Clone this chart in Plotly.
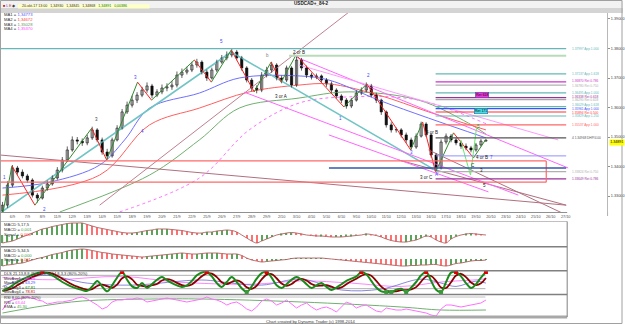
import plotly.graph_objects as go

W, H = 625, 324

# ---------------- data ----------------
closes = [1.3269, 1.3337, 1.3395, 1.3381, 1.3368, 1.3354, 1.3303, 1.3293, 1.3327, 1.3341,
          1.3361, 1.3388, 1.3422, 1.3456, 1.3490, 1.3486, 1.3480, 1.3497, 1.3524, 1.3490,
          1.3449, 1.3436, 1.3490, 1.3530, 1.3585, 1.3608, 1.3625, 1.3642, 1.3659, 1.3673,
          1.3642, 1.3653, 1.3666, 1.3670, 1.3676, 1.3710, 1.3720, 1.3727, 1.3744, 1.3754,
          1.3720, 1.3700, 1.3727, 1.3754, 1.3768, 1.3778, 1.3788, 1.3768, 1.3734, 1.3693,
          1.3666, 1.3659, 1.3710, 1.3727, 1.3744, 1.3700, 1.3693, 1.3734, 1.3676, 1.3761,
          1.3734, 1.3710, 1.3703, 1.3707, 1.3693, 1.3680, 1.3659, 1.3639, 1.3625, 1.3605,
          1.3625, 1.3649, 1.3659, 1.3673, 1.3642, 1.3625, 1.3585, 1.3541, 1.3524, 1.3524,
          1.3507, 1.3490, 1.3466, 1.3503, 1.3544, 1.3507, 1.3439, 1.3395, 1.3483, 1.3503,
          1.3490, 1.3480, 1.3469, 1.3463, 1.3456, 1.3473, 1.3486, 1.3489]
highs = [1.3280, 1.3350, 1.3405, 1.3402, 1.3390, 1.3375, 1.3360, 1.3310, 1.3335, 1.3352,
         1.3370, 1.3398, 1.3432, 1.3468, 1.3502, 1.3500, 1.3495, 1.3508, 1.3535, 1.3530,
         1.3498, 1.3460, 1.3498, 1.3540, 1.3595, 1.3620, 1.3640, 1.3652, 1.3670, 1.3685,
         1.3680, 1.3662, 1.3678, 1.3682, 1.3690, 1.3722, 1.3732, 1.3738, 1.3755, 1.3765,
         1.3760, 1.3728, 1.3735, 1.3762, 1.3778, 1.3790, 1.3800, 1.3795, 1.3775, 1.3740,
         1.3700, 1.3675, 1.3720, 1.3738, 1.3755, 1.3750, 1.3708, 1.3742, 1.3740, 1.3775,
         1.3768, 1.3742, 1.3718, 1.3715, 1.3712, 1.3700, 1.3688, 1.3665, 1.3645, 1.3632,
         1.3632, 1.3658, 1.3668, 1.3685, 1.3680, 1.3650, 1.3630, 1.3590, 1.3550, 1.3532,
         1.3530, 1.3515, 1.3498, 1.3512, 1.3552, 1.3550, 1.3512, 1.3445, 1.3492, 1.3512,
         1.3510, 1.3498, 1.3488, 1.3478, 1.3470, 1.3480, 1.3493, 1.3493]
lows = [1.3240, 1.3260, 1.3330, 1.3372, 1.3360, 1.3345, 1.3295, 1.3278, 1.3288, 1.3318,
        1.3335, 1.3355, 1.3380, 1.3415, 1.3450, 1.3475, 1.3470, 1.3472, 1.3490, 1.3482,
        1.3440, 1.3425, 1.3430, 1.3485, 1.3525, 1.3578, 1.3600, 1.3615, 1.3635, 1.3650,
        1.3632, 1.3635, 1.3645, 1.3655, 1.3660, 1.3668, 1.3700, 1.3712, 1.3720, 1.3735,
        1.3712, 1.3690, 1.3695, 1.3720, 1.3748, 1.3760, 1.3770, 1.3760, 1.3725, 1.3685,
        1.3655, 1.3648, 1.3652, 1.3702, 1.3718, 1.3692, 1.3682, 1.3686, 1.3668, 1.3670,
        1.3725, 1.3700, 1.3695, 1.3696, 1.3685, 1.3670, 1.3650, 1.3630, 1.3615, 1.3596,
        1.3598, 1.3620, 1.3642, 1.3652, 1.3635, 1.3615, 1.3575, 1.3532, 1.3515, 1.3515,
        1.3498, 1.3480, 1.3458, 1.3460, 1.3498, 1.3500, 1.3430, 1.3385, 1.3390, 1.3475,
        1.3482, 1.3472, 1.3460, 1.3455, 1.3448, 1.3450, 1.3468, 1.3485]
first_open = 1.3250
opens = [first_open] + closes[:-1]
bars = list(range(len(closes)))

# moving averages (bar, price)
ma1_bar = [0, 9.5, 19.5, 24.5, 29.5, 39.5, 47.5, 59.5, 65.5, 75.5, 85.5, 97]
ma1_val = [1.3327, 1.3347, 1.3405, 1.3490, 1.3598, 1.3649, 1.3700, 1.3707, 1.3693, 1.3625, 1.3564, 1.3497]
ma2_bar = [0, 19.5, 29.5, 39.5, 49.5, 59.5, 65.5, 75.5, 85.5, 97]
ma2_val = [1.3303, 1.3371, 1.3541, 1.3598, 1.3653, 1.3676, 1.3680, 1.3642, 1.3585, 1.3524]
ma3_bar = [11.5, 29.5, 39.5, 47.5, 59.5, 69.5, 83.5, 93.5, 97]
ma3_val = [1.3246, 1.3371, 1.3490, 1.3598, 1.3632, 1.3653, 1.3625, 1.3547, 1.3510]
ma4_bar = [23.5, 39.5, 49.5, 59.5, 69.5, 83.5, 97]
ma4_val = [1.3246, 1.3361, 1.3524, 1.3615, 1.3636, 1.3625, 1.3545]

# trend lines (bar, price)
maroon_up_bar = [19.5, 73.9]
maroon_up_val = [1.3269, 1.3981]
maroon_flat_bar = [-0.5, 113.1]
maroon_flat_val = [1.3439, 1.3269]
maroon_a_bar = [85.5, 113.1]
maroon_a_val = [1.3456, 1.3236]
maroon_b_bar = [79.5, 113.1]
maroon_b_val = [1.3422, 1.3269]
teal_up_bar = [-0.5, 45.9]
teal_up_val = [1.3242, 1.3788]
teal_down_bar = [45.9, 87.5]
teal_down_val = [1.3788, 1.3381]
pink_a_bar = [58.9, 113.5]
pink_a_val = [1.3771, 1.3395]
pink_b_bar = [59.5, 111.5]
pink_b_val = [1.3744, 1.3490]
pink_c_bar = [48.5, 103.5]
pink_c_val = [1.3652, 1.3303]
pink_d_bar = [65.5, 97.5]
pink_d_val = [1.3507, 1.3314]

# zigzag swing points
swing_bar = [0.1, 1.9, 6.5, 17.9, 20.9, 27.1, 29.9, 38.5, 41.9, 45.9, 50.5, 53.9, 55.9,
             58.9, 68.5, 73.1, 81.9, 84.3, 86.9, 90.5, 94.5, 96.9]
swing_val = [1.3245, 1.3402, 1.3269, 1.3530, 1.3422, 1.3686, 1.3625, 1.3761, 1.3686, 1.3795,
             1.3653, 1.3754, 1.3686, 1.3778, 1.3602, 1.3680, 1.3456, 1.3551, 1.3381, 1.3514,
             1.3429, 1.3490]
proj_bar = [91.9, 93.9, 95.1]
proj_val = [1.3490, 1.3371, 1.3530]

# horizontal levels
level_val = [1.37997, 1.37137, 1.36870, 1.36760, 1.36495, 1.36338, 1.36270, 1.36029,
             1.35961, 1.35847, 1.35712, 1.35410, 1.34968, 1.33824, 1.33580]
level_text = ["1.37997 App 1.000", "1.37137 App 1.618", "1.36870 Ret 0.786", "1.36780 Ret 0.750",
              "1.36495 App 1.000", "1.36338 Ret 0.618", "1.36290 Ret 0.618", "1.36029 App 1.618",
              "1.35961 App 1.000", "1.35894 Ret 0.500", "1.35829 App 1.250", "1.35537 App 1.000",
              "4 1.34968 DHP/4.00", "1.33824 Ret 0.750", "1.33649 Ret 0.786"]
level_start = [-0.5, 86.9, 86.9, 86.9, 86.9, 86.9, 86.9, 86.9, 86.9, 86.9, 86.9, 86.9, 86.9, 86.9, 86.9]
level_end = 113.1
green_band_val = 1.3775
green_band_start = 57.5
red_box_top = 1.3419
red_box_bottom = 1.3347
red_box_end = 109.1
blue_line_val = 1.3395
blue_line_start = 65.5
lav_line_val = 1.3436
lav_line_start = 87.0
ret_box_bar = [96.2, 96.0]
ret_box_val = [1.36407, 1.35898]
ret_box_text = ["Ret 618", "Ret 171"]

# wave labels
wave_bar = [0.5, 8.5, 18.9, 26.7, 28.1, 43.9, 53.1, 55.9, 59.5, 67.9, 73.5, 82.1, 86.1,
            85.1, 87.1, 94.5, 95.5, 96.3, 98.1, 96.1, 96.7]
wave_val = [1.3364, 1.3253, 1.3558, 1.3703, 1.3520, 1.3822, 1.3775, 1.3636, 1.3788, 1.3564,
            1.3710, 1.3449, 1.3514, 1.3364, 1.3374, 1.3405, 1.3534, 1.3432, 1.3432, 1.3385, 1.3334]
wave_text = ["1", "2", "3", "3", "4", "5", "b", "3 or A", "2 or B", "1", "2", "3", "4 or B",
             "3 or C", "A", "C", "5", "4 or B", "7", "3", "5"]

price_ticks = [1.33, 1.34, 1.35, 1.36, 1.37, 1.38, 1.39]
last_price = 1.34891
tick_bar = list(range(2, 114, 3))
tick_text = ["6/9", "7/9", "8/9", "11/9", "12/9", "13/9", "14/9", "15/9", "18/9", "19/9",
             "20/9", "21/9", "22/9", "25/9", "26/9", "27/9", "28/9", "29/9", "2/10", "3/10",
             "4/10", "5/10", "6/10", "9/10", "10/10", "11/10", "12/10", "13/10", "16/10", "17/10",
             "18/10", "19/10", "20/10", "23/10", "24/10", "25/10", "26/10", "27/10"]

# indicators (MACD in pips)
macd1 = [-8, -7, -6, -4, -2, 0, 2, 4, 6, 7, 8.5, 9.5, 10.5, 11.5, 12, 12, 12, 10.5, 9, 7.5,
         6.5, 5.5, 4.5, 3.5, 2.5, 2, 2, 2.5, 3.5, 4.5, 5, 6, 6, 6, 5.5, 5, 4.5, 3.5, 2.5, 2,
         2, 3, 3, 4, 4.5, 5, 4.5, 3, 0, -3, -6, -8, -6, -4, -2, 0, 1, 2, 2.5, 2,
         1, 0, -0.5, -1, -1, -1.5, -2, -2, -2, -1.5, -1, -0.5, 0, 1, 0.5, -0.5, -2, -4, -5.5, -6.5,
         -7, -7, -6, -5, -3, -1, -2, -5, -7, -8, -4, -1.5, 0, 1, 1.5, 1, 0.5, 0]
macd2 = [-7, -6, -5.5, -4.5, -4, -2.5, -1, 0.5, 1.5, 3, 4.5, 5.5, 6.5, 8, 9, 9.5, 10, 9.5, 8.5, 7.5,
         6.5, 6, 5, 4.5, 4, 3.5, 3, 2.5, 2, 2.5, 3, 3.5, 4, 4.5, 5, 5.5, 6, 5.5, 5, 5,
         5.5, 6, 6, 6, 5.5, 5, 5, 5, 3.5, 1, -1, -2, -3, -2.5, -2, -1.5, -1, -0.5, 0.5, 1,
         1, 1, 1, 1, 1, 0.5, 0, -0.5, -1, -1.5, -2, -2.5, -3, -3.5, -4, -4.5, -5, -5.5, -6, -6.5,
         -7, -7, -6.5, -6.5, -6, -6, -5.5, -5.5, -6.5, -7, -6, -4.5, -4, -3, -2, -1.5, -1.5, -1]
stoch_k = [10, 20, 35, 50, 62, 72, 82, 90, 95, 90, 80, 65, 50, 38, 28, 20, 14, 10, 30, 55,
           30, 8, 35, 70, 95, 60, 30, 23, 45, 23, 40, 60, 72, 58, 45, 35, 28, 35, 55, 80,
           93, 95, 75, 45, 28, 50, 72, 50, 22, 5, 30, 65, 90, 95, 70, 35, 23, 40, 60, 72,
           60, 40, 23, 35, 45, 28, 14, 25, 40, 55, 65, 75, 95, 85, 55, 25, 8, 5, 5, 15,
           20, 5, 25, 50, 80, 95, 55, 15, 5, 50, 92, 95, 75, 45, 23, 40, 70, 95]
stoch_d = [10, 15, 22, 35, 49, 61, 72, 81, 89, 92, 88, 78, 65, 51, 39, 29, 21, 15, 18, 32,
           38, 31, 24, 38, 67, 75, 62, 38, 33, 30, 36, 41, 57, 63, 58, 46, 36, 33, 39, 57,
           76, 89, 88, 72, 49, 41, 50, 57, 48, 26, 19, 33, 62, 83, 85, 67, 43, 33, 41, 57,
           64, 57, 41, 33, 34, 36, 29, 22, 26, 40, 53, 65, 78, 85, 78, 55, 29, 13, 6, 8,
           13, 13, 17, 27, 52, 75, 77, 55, 25, 23, 49, 79, 87, 72, 48, 36, 44, 68]
slow_blue_bar = [0, 8, 17, 26, 40, 46, 52, 60, 68, 76, 84, 88, 91, 95, 97]
slow_blue_val = [30, 80, 45, 36, 59, 45, 36, 63, 14, 18, 63, 45, 30, 54, 45]
slow_pink_bar = [0, 10, 24, 35, 50, 60, 70, 80, 88, 95, 97]
slow_pink_val = [70, 60, 75, 50, 40, 55, 45, 30, 50, 60, 65]
rsi = [41, 65, 71, 74, 77, 80, 77, 71, 68, 59, 62, 65, 65, 68, 71, 77, 80, 74, 65, 56,
       44, 50, 65, 71, 71, 74, 74, 77, 74, 65, 68, 71, 74, 77, 74, 71, 68, 65, 68, 71,
       74, 80, 74, 71, 65, 56, 62, 65, 56, 44, 38, 50, 68, 74, 68, 56, 62, 71, 59, 47,
       56, 62, 50, 41, 47, 50, 44, 35, 50, 65, 59, 47, 53, 56, 47, 38, 35, 47, 44, 41,
       41, 44, 41, 38, 35, 32, 26, 23, 44, 56, 56, 53, 50, 53, 56, 59, 62, 71]
rsi_ema_bar = [0, 8, 16, 30, 40, 60, 80, 88, 97]
rsi_ema_val = [32, 53, 68, 74, 74, 65, 50, 41, 41]

# ---------------- styles ----------------
FONT = "Liberation Sans"
TEAL = "#66b8b8"
level_color = [TEAL, TEAL, "#cc33cc", "#b0b0b0", TEAL, "#993399", "#a8a8a8", TEAL,
               "#3355ff", "#ff3333", TEAL, "#ff6666", "#555555", "#b0b0b0", "#993399"]
wave_color = ["#4040ff", "#4040ff", "#404040", "#4040ff", "#4040ff", "#4040ff", "#808080",
              "#202020", "#202020", "#4040ff", "#4040ff", "#4040ff", "#202020", "#202020",
              "#4040ff", "#202020", "#20a020", "#202020", "#4040ff", "#202020", "#202020"]


def py(p):
    return 1 - p / H


def px(p):
    return p / W


fig = go.Figure()


def line(xs, ys, color, width=1, dash="solid", shape="linear", xa="x", ya="y"):
    fig.add_trace(go.Scatter(x=xs, y=ys, mode="lines", xaxis=xa, yaxis=ya,
                             line=dict(color=color, width=width, dash=dash, shape=shape),
                             hoverinfo="skip", showlegend=False))


# moving averages
line(ma3_bar, ma3_val, "#70b070", 1, shape="spline")
line(ma4_bar, ma4_val, "#ff70ff", 1, dash="dot", shape="spline")
line(ma2_bar, ma2_val, "#ff6060", 1, shape="spline")
line(ma1_bar, ma1_val, "#7070ff", 1, shape="spline")

# trend lines
line(maroon_up_bar, maroon_up_val, "#c08090", 1)
line(maroon_flat_bar, maroon_flat_val, "#b07080", 1)
line(maroon_a_bar, maroon_a_val, "#b07080", 1)
line(maroon_b_bar, maroon_b_val, "#b07080", 1)
line(teal_up_bar, teal_up_val, "#70c4c4", 1.6)
line(teal_down_bar, teal_down_val, "#70c4c4", 1.6)
line(pink_a_bar, pink_a_val, "#ff66ff", 1)
line(pink_b_bar, pink_b_val, "#ff99ff", 1)
line(pink_c_bar, pink_c_val, "#ff66ff", 1)
line(pink_d_bar, pink_d_val, "#ff66ff", 1)

# candles: wicks + bodies
wick_x, wick_y = [], []
for b, lo, hi in zip(bars, lows, highs):
    wick_x += [b, b, None]
    wick_y += [lo, hi, None]
line(wick_x, wick_y, "#202020", 0.7)
body_base = [min(o, c) for o, c in zip(opens, closes)]
body_size = [max(abs(c - o), 0.00012) for o, c in zip(opens, closes)]
body_color = ["#ffffff" if c >= o else "#000000" for o, c in zip(opens, closes)]
fig.add_trace(go.Bar(x=bars, y=body_size, base=body_base, width=0.45, xaxis="x", yaxis="y",
                     marker=dict(color=body_color, line=dict(color="#000000", width=0.6)),
                     hoverinfo="skip", showlegend=False))

# zigzag
up_x, up_y, dn_x, dn_y = [], [], [], []
for i in range(len(swing_bar) - 1):
    seg_x = [swing_bar[i], swing_bar[i + 1], None]
    seg_y = [swing_val[i], swing_val[i + 1], None]
    if swing_val[i + 1] > swing_val[i]:
        up_x += seg_x
        up_y += seg_y
    else:
        dn_x += seg_x
        dn_y += seg_y
line(up_x, up_y, "#2e8b2e", 1)
line(dn_x, dn_y, "#ff2020", 1)
line(proj_bar, proj_val, "#66ee66", 1)

shapes = []
annotations = []

# levels
label_shift = [0, 0, 0.8, -0.8, 0, 0.9, -0.9, 1.2, -0.4, -0.6, 0, 0, 0, 0, 0]
for v, t, s, c, sh in zip(level_val, level_text, level_start, level_color, label_shift):
    shapes.append(dict(type="line", xref="x", yref="y", x0=s, x1=level_end, y0=v, y1=v,
                       line=dict(color=c, width=1.2)))
    annotations.append(dict(xref="x", yref="y", x=level_end + 0.8, y=v, text=t, yshift=sh,
                            showarrow=False, xanchor="left", yanchor="middle",
                            font=dict(family=FONT, size=3.2, color=c)))
shapes.append(dict(type="line", xref="x", yref="y", x0=green_band_start, x1=level_end,
                   y0=green_band_val, y1=green_band_val, line=dict(color="#b8dcb8", width=2)))
for v in (red_box_top, red_box_bottom):
    shapes.append(dict(type="line", xref="x", yref="y", x0=-0.5, x1=red_box_end, y0=v, y1=v,
                       line=dict(color="#ff6a6a", width=1.2)))
shapes.append(dict(type="line", xref="x", yref="y", x0=red_box_end, x1=red_box_end,
                   y0=red_box_bottom, y1=red_box_top, line=dict(color="#ff6a6a", width=1.2)))
shapes.append(dict(type="line", xref="x", yref="y", x0=blue_line_start, x1=level_end,
                   y0=blue_line_val, y1=blue_line_val, line=dict(color="#3558a8", width=1.4)))
shapes.append(dict(type="line", xref="x", yref="y", x0=lav_line_start, x1=level_end,
                   y0=lav_line_val, y1=lav_line_val, line=dict(color="#9090ff", width=1)))
for b, v, t, bg in zip(ret_box_bar, ret_box_val, ret_box_text, ["#ff33dd", "#44e0e0"]):
    annotations.append(dict(xref="x", yref="y", x=b, y=v, text=t, showarrow=False,
                            bgcolor=bg, bordercolor="#3050a0", borderwidth=0.5, borderpad=0.5,
                            font=dict(family=FONT, size=3.5, color="#000000")))

for b, v, t, c in zip(wave_bar, wave_val, wave_text, wave_color):
    annotations.append(dict(xref="x", yref="y", x=b, y=v, text=t, showarrow=False,
                            font=dict(family=FONT, size=4.5, color=c)))

# current price label
annotations.append(dict(xref="paper", yref="y", x=px(610.5), y=last_price, text="1.34891",
                        showarrow=False, xanchor="left", bgcolor="#ffff00", borderpad=0.3,
                        yshift=-1.8, font=dict(family=FONT, size=3.6, color="#000000")))

# ---------- indicators ----------
def bar_colors(vals):
    out = []
    for i, v in enumerate(vals):
        prev = vals[i - 1] if i > 0 else v
        out.append("#5aa55a" if v >= prev else "#ff7070")
    return out


for vals, xa, ya in ((macd1, "x2", "y2"), (macd2, "x3", "y3")):
    fig.add_trace(go.Bar(x=bars, y=vals, xaxis=xa, yaxis=ya, width=0.25,
                         marker=dict(color=bar_colors(vals), line=dict(width=0)),
                         hoverinfo="skip", showlegend=False))
    line(bars, vals, "#b06060", 0.9, shape="spline", xa=xa, ya=ya)

line(slow_pink_bar, slow_pink_val, "#ff66ff", 0.8, shape="spline", xa="x4", ya="y4")
line(slow_blue_bar, slow_blue_val, "#6a6ad0", 0.8, shape="spline", xa="x4", ya="y4")
line(bars, stoch_d, "#8b0000", 1.8, shape="spline", xa="x4", ya="y4")
line(bars, stoch_k, "#1a8a1a", 2.0, shape="spline", xa="x4", ya="y4")
hi_x = [b for b, k in zip(bars, stoch_k) if k >= 95]
hi_y = [k for k in stoch_k if k >= 95]
lo_x = [b for b, k in zip(bars, stoch_k) if k <= 5]
lo_y = [k for k in stoch_k if k <= 5]
fig.add_trace(go.Scatter(x=hi_x, y=hi_y, mode="markers", xaxis="x4", yaxis="y4",
                         marker=dict(symbol="square", size=4, color="#e00000"),
                         hoverinfo="skip", showlegend=False))
fig.add_trace(go.Scatter(x=lo_x, y=lo_y, mode="markers", xaxis="x4", yaxis="y4",
                         marker=dict(symbol="square", size=4, color="#3a9a3a"),
                         hoverinfo="skip", showlegend=False))

line(rsi_ema_bar, rsi_ema_val, "#70b070", 1, shape="spline", xa="x5", ya="y5")
line(bars, rsi, "#ff70ff", 1, xa="x5", ya="y5")

# ---------- frame shapes ----------
shapes += [
    dict(type="rect", xref="paper", yref="paper", x0=0, x1=1, y0=py(8), y1=1,
         fillcolor="#f2f2f2", line=dict(width=0), layer="below"),
    dict(type="rect", xref="paper", yref="paper", x0=0, x1=1, y0=py(13), y1=py(8),
         fillcolor="#d4d4d4", line=dict(width=0), layer="below"),
    dict(type="rect", xref="paper", yref="paper", x0=px(18), x1=px(150), y0=py(8.5), y1=py(4.3),
         fillcolor="#ffffc8", line=dict(width=0)),
    dict(type="line", xref="paper", yref="paper", x0=0, x1=px(569), y0=py(212.5), y1=py(212.5),
         line=dict(color="#909090", width=1)),
    dict(type="line", xref="paper", yref="paper", x0=0, x1=px(569), y0=py(221.5), y1=py(221.5),
         line=dict(color="#c0c0c0", width=1)),
    dict(type="line", xref="paper", yref="paper", x0=0, x1=px(569), y0=py(246.7), y1=py(246.7),
         line=dict(color="#808080", width=1.5)),
    dict(type="line", xref="paper", yref="paper", x0=0, x1=px(569), y0=py(270.7), y1=py(270.7),
         line=dict(color="#808080", width=1.5)),
    dict(type="line", xref="paper", yref="paper", x0=0, x1=px(569), y0=py(294.5), y1=py(294.5),
         line=dict(color="#808080", width=1.5)),
    dict(type="line", xref="paper", yref="paper", x0=0, x1=px(569), y0=py(317), y1=py(317),
         line=dict(color="#a8a8a8", width=3)),
    dict(type="line", xref="paper", yref="paper", x0=px(569), x1=px(569), y0=py(317), y1=py(221.5),
         line=dict(color="#808080", width=1)),
    dict(type="line", xref="paper", yref="paper", x0=px(609.5), x1=px(609.5), y0=py(216), y1=py(212),
         line=dict(color="#b0b0b0", width=1)),
    dict(type="rect", xref="paper", yref="paper", x0=px(0.5), x1=px(624), y0=py(323.5), y1=py(0.5),
         line=dict(color="#a0a0a0", width=1)),
]
for v in (80, 20):
    shapes.append(dict(type="line", xref="paper", yref="y4", x0=0, x1=px(487),
                       y0=v, y1=v, line=dict(color="#b0b0b0", width=1), layer="below"))
shapes.append(dict(type="line", xref="paper", yref="y5", x0=0, x1=px(487), y0=80, y1=80,
                   line=dict(color="#c0c0c0", width=1), layer="below"))

# ---------- texts ----------
def txt(x, y, t, size=4.2, color="#303030", anchor="left", bold=False):
    if bold:
        t = "<b>" + t + "</b>"
    annotations.append(dict(xref="paper", yref="paper", x=px(x), y=py(y), text=t,
                            showarrow=False, xanchor=anchor, yanchor="middle",
                            font=dict(family=FONT, size=size, color=color)))


txt(312, 3.2, "USDCAD+_84-2", 4.6, "#202020", "center", True)
txt(1.5, 6.4, "<span style='color:#d00000'>■</span> <span style='color:#4040c0'>L</span> "
              "<span style='color:#c04040'>E</span> <span style='color:#404040'>◆</span>", 3.6)
txt(20, 6.4, "20-okt-17 13:00   1,34930   1,34845   1,34868   "
             "<span style='color:#008000'>1,34891   0,00386</span>", 3.6, "#303030")
txt(2, 15, "MA1 = <span style='color:#5050ff'>1,34773</span>", 4.2)
txt(2, 19.5, "MA2 = <span style='color:#ff4040'>1,34672</span>", 4.2)
txt(2, 24, "MA3 = <span style='color:#60a060'>1,35028</span>", 4.2)
txt(2, 28.5, "MA4 = <span style='color:#ff40ff'>1,35370</span>", 4.2)

txt(2, 224.5, "MACD 5,17,5", 4.2)
txt(2, 229.3, "MACD = <span style='color:#40a040'>0,001</span>", 4.2)
txt(2, 234, "Signal = <span style='color:#ff4040'>0,000</span>", 4.2)
txt(2, 250.5, "MACD 5,34,5", 4.2)
txt(2, 255, "MACD = <span style='color:#40a040'>0,000</span>", 4.2)
txt(2, 259.5, "Signal = <span style='color:#ff4040'>0,001</span>", 4.2)
txt(2, 273.5, "DLS 21,13,8,8 (80%-20%) 14,8,3,3 (80%-20%)", 4.0)
txt(2, 278, "MovAvg1 = <span style='color:#ff40ff'>64,28</span>", 4.0)
txt(2, 282.5, "MovAvg2 = <span style='color:#4040ff'>63,29</span>", 4.0)
txt(2, 287, "MovAvg3 = <span style='color:#008000'>67,81</span>", 4.0)
txt(2, 291.5, "MovAvg4 = <span style='color:#d00000'>78,81</span>", 4.0)
txt(2, 297.5, "RSI 8,00 (80%-20%)", 4.0)
txt(2, 302, "RSI = <span style='color:#ff40ff'>63,44</span>", 4.0)
txt(2, 306.5, "EMA = <span style='color:#40a040'>45,30</span>", 4.0)
txt(312, 321, "Chart created by Dynamic Trader (c) 1998-2014", 4.2, "#404040", "center")

# ---------- layout ----------
sub_x = dict(domain=[0, px(569)], range=[-0.5, 113.3], visible=False, fixedrange=True)
fig.update_layout(
    width=W, height=H, margin=dict(l=0, r=0, t=0, b=0),
    paper_bgcolor="#ffffff", plot_bgcolor="#ffffff", showlegend=False,
    font=dict(family=FONT), barmode="overlay",
    xaxis=dict(domain=[0, px(609)], range=[-0.5, 121.3], anchor="y",
               tickvals=tick_bar, ticktext=tick_text, ticks="", showgrid=False,
               zeroline=False, showline=False, tickfont=dict(family=FONT, size=3.8, color="#505050"),
               ticklabelstandoff=1),
    yaxis=dict(domain=[py(212), py(13)], range=[1.32458, 1.39203], anchor="x", side="right",
               tickvals=price_ticks, ticktext=[f"{v:.5f}" for v in price_ticks],
               ticks="outside", ticklen=2, tickcolor="#909090", showgrid=False, zeroline=False,
               showline=True, linecolor="#b8b8b8", linewidth=1,
               tickfont=dict(family=FONT, size=3.8, color="#404040")),
    xaxis2=dict(sub_x, anchor="y2"), xaxis3=dict(sub_x, anchor="y3"),
    xaxis4=dict(sub_x, anchor="y4"), xaxis5=dict(sub_x, anchor="y5"),
    yaxis2=dict(domain=[py(246.5), py(221.5)], range=[-11.5, 13.5], visible=False, anchor="x2"),
    yaxis3=dict(domain=[py(270.5), py(247)], range=[-11.5, 12], visible=False, anchor="x3"),
    yaxis4=dict(domain=[py(294), py(271)], range=[-4, 99.5], visible=False, anchor="x4"),
    yaxis5=dict(domain=[py(316.5), py(295)], range=[21.5, 86], visible=False, anchor="x5"),
    shapes=shapes, annotations=annotations,
)

fig.write_html("out.html")
